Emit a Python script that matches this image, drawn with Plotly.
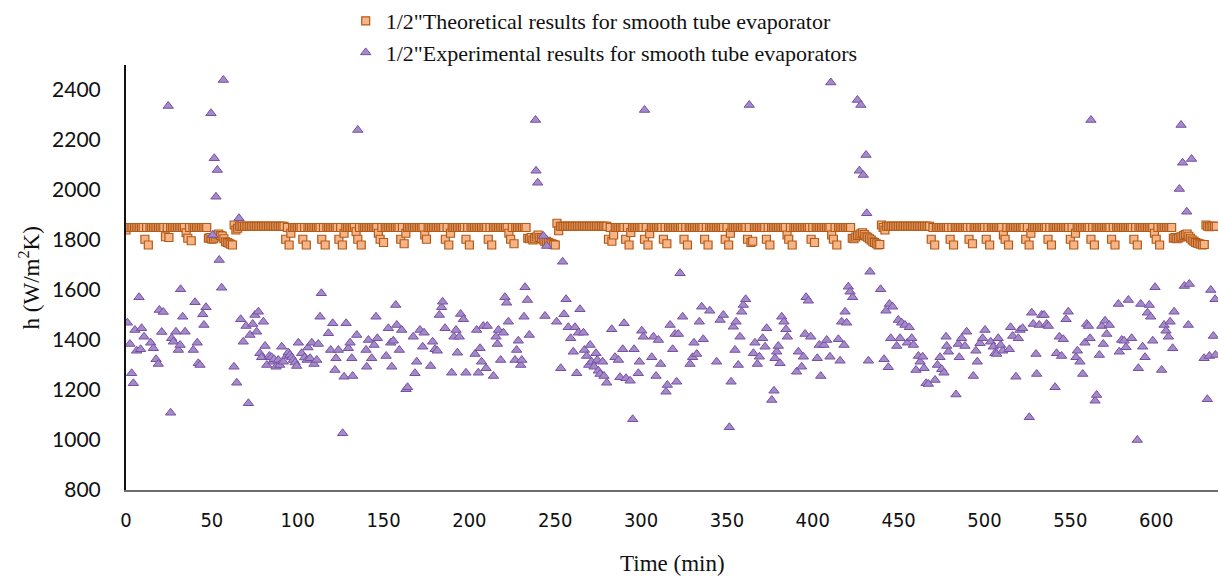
import plotly.graph_objects as go

# ---------------- data ----------------
theo_h = [
    1840,1850,1850,1850,1850,1850,1850,1850,1850,1850,
    1850,1803,1850,1780,1850,1850,1850,1850,1850,1850,
    1850,1850,1850,1813,1850,1810,1850,1850,1850,1850,
    1850,1850,1850,1850,1850,1829,1807,1850,1797,1850,
    1850,1850,1850,1850,1850,1850,1850,1850,1807,1810,
    1803,1805,1812,1820,1824,1818,1816,1805,1793,1790,
    1787,1783,1780,1860,1840,1847,1855,1855,1855,1855,
    1855,1855,1855,1855,1855,1855,1855,1855,1855,1855,
    1855,1855,1855,1855,1855,1855,1855,1855,1855,1855,
    1855,1855,1855,1803,1850,1780,1827,1850,1850,1850,
    1850,1850,1850,1803,1850,1780,1850,1850,1850,1850,
    1850,1850,1850,1850,1803,1850,1780,1850,1850,1850,
    1850,1850,1850,1850,1803,1850,1780,1827,1850,1850,
    1850,1850,1850,1850,1833,1803,1850,1780,1850,1850,
    1850,1850,1850,1850,1850,1850,1850,1827,1803,1850,
    1790,1850,1850,1850,1850,1850,1850,1850,1850,1850,
    1803,1850,1785,1827,1850,1850,1850,1850,1850,1850,
    1850,1850,1850,1850,1820,1803,1850,1850,1850,1850,
    1850,1850,1850,1850,1850,1850,1803,1850,1780,1827,
    1850,1850,1850,1850,1850,1850,1850,1850,1803,1850,
    1780,1850,1850,1850,1850,1850,1850,1850,1850,1850,
    1850,1803,1850,1780,1850,1850,1850,1850,1850,1850,
    1850,1850,1850,1827,1803,1850,1785,1850,1850,1850,
    1850,1850,1850,1850,1807,1805,1810,1800,1805,1812,
    1820,1810,1805,1800,1793,1795,1790,1787,1785,1782,
    1780,1867,1837,1855,1855,1855,1855,1855,1855,1855,
    1855,1855,1855,1855,1855,1855,1855,1855,1855,1855,
    1855,1855,1855,1855,1855,1855,1855,1855,1855,1855,
    1855,1803,1850,1795,1820,1850,1850,1850,1850,1850,
    1850,1803,1850,1780,1830,1850,1850,1850,1850,1850,
    1850,1850,1803,1850,1780,1825,1850,1850,1850,1850,
    1850,1850,1850,1803,1850,1785,1850,1850,1850,1850,
    1850,1850,1850,1850,1850,1803,1850,1780,1850,1850,
    1850,1850,1850,1850,1850,1850,1850,1803,1850,1780,
    1850,1850,1850,1850,1850,1850,1850,1850,1850,1803,
    1850,1780,1827,1850,1850,1850,1850,1850,1850,1850,
    1850,1850,1803,1850,1790,1795,1850,1850,1850,1850,
    1850,1850,1850,1803,1850,1780,1850,1850,1850,1850,
    1850,1850,1850,1850,1850,1820,1803,1850,1780,1850,
    1850,1850,1850,1850,1850,1850,1850,1850,1850,1803,
    1850,1790,1850,1850,1850,1850,1850,1850,1850,1850,
    1850,1820,1803,1850,1780,1850,1850,1850,1850,1850,
    1850,1850,1850,1807,1805,1812,1818,1820,1825,1829,
    1822,1815,1811,1805,1800,1793,1790,1785,1780,1782,
    1860,1850,1840,1855,1855,1855,1855,1855,1855,1855,
    1855,1855,1855,1855,1855,1855,1855,1855,1855,1855,
    1855,1855,1855,1855,1855,1855,1855,1855,1855,1803,
    1850,1780,1850,1850,1850,1850,1850,1850,1850,1850,
    1803,1850,1780,1850,1850,1850,1850,1850,1850,1850,
    1850,1803,1850,1785,1850,1850,1850,1850,1850,1850,
    1850,1803,1850,1780,1850,1850,1850,1850,1850,1850,
    1850,1820,1803,1850,1780,1850,1850,1850,1850,1850,
    1850,1850,1850,1850,1803,1850,1780,1827,1850,1850,
    1850,1850,1850,1850,1850,1850,1850,1803,1850,1780,
    1850,1850,1850,1850,1850,1850,1850,1850,1850,1850,
    1803,1850,1780,1827,1850,1850,1850,1850,1850,1850,
    1850,1850,1803,1850,1780,1850,1850,1850,1850,1850,
    1850,1850,1850,1850,1803,1850,1780,1850,1850,1850,
    1850,1850,1850,1850,1850,1850,1850,1803,1850,1780,
    1850,1850,1850,1850,1850,1850,1850,1850,1850,1827,
    1803,1850,1780,1850,1850,1850,1850,1850,1850,1850,
    1807,1810,1805,1808,1812,1813,1818,1822,1824,1815,
    1807,1800,1795,1790,1787,1785,1783,1780,1782,1860,
    1855,1853,1855,1855,1855,1855,
]
theo_time = list(range(len(theo_h)))

exp_time = [
    0.8, 2.3, 3.3, 4.3, 5.2, 6.2, 7.6, 8.5, 9.1, 10.5, 14.4, 15.9, 17.5, 18.8, 19.4, 20.8, 21.7,
    24.6, 26.0, 26.6, 27.6, 29.1, 30.5, 31.5, 31.8, 33.0, 34.4, 39.2, 40.2, 41.5, 42.1, 43.1,
    44.7, 45.4, 46.6,
    49.5, 50.5, 51.4, 52.4, 53.2, 54.3, 55.7, 56.7,
    62.9, 64.5, 65.8, 66.8, 68.3, 69.9, 71.3, 72.2, 73.8, 75.1, 76.1, 77.1, 78.0, 79.0, 80.0,
    81.0, 82.0, 83.5, 84.8, 85.5, 86.2, 87.4, 88.7, 89.5, 90.7, 91.6, 93.6, 94.5, 95.5, 96.5,
    97.5, 98.5, 99.4, 100.4, 102.3, 104.0, 105.5, 106.0, 107.2, 108.2, 109.5, 111.1, 112.0,
    113.0, 113.8, 117.9, 119.2, 120.4, 121.7, 122.3, 123.7, 126.2, 127.0, 128.2, 129.5, 130.5,
    131.5, 132.0, 134.4, 135.0, 139.8, 140.2, 141.2, 143.1, 144.5, 145.6, 146.4, 151.5, 152.8,
    154.2, 154.8, 155.7, 157.1, 157.7, 159.2, 160.6, 163.1, 164.0,
    167.3, 168.3, 169.3, 171.2, 172.8, 173.6, 177.4, 178.6, 180.0, 181.3, 182.5, 183.8, 184.4,
    185.8, 189.7, 191.0, 192.2, 193.0, 194.1, 194.9, 196.5, 198.0, 203.3, 204.2, 205.2, 206.2,
    207.1, 208.1, 209.7, 210.4, 214.0, 215.5, 216.3, 216.9, 218.2, 219.8, 220.7, 221.7, 222.7,
    226.6, 227.5, 228.5, 229.9, 230.5, 231.8, 232.4, 233.8, 234.9,
    238.5, 238.8, 239.8, 243.1, 244.0, 245.0,
    250.8, 253.2, 254.3, 255.1, 256.3, 257.6, 259.0, 260.5, 261.5, 262.5, 263.5, 264.4, 266.4,
    267.0, 268.3, 269.5, 270.3, 271.2, 272.6, 273.7, 274.5, 275.1, 276.1, 277.6, 278.4, 280.0,
    282.9, 284.8, 286.8, 287.7, 289.3, 290.1, 291.2, 293.6, 295.1, 295.9, 298.4, 299.0, 300.4,
    301.3, 302.0, 306.2, 307.2, 308.7, 310.1, 311.4, 314.5, 315.3, 316.9, 318.4, 319.8, 320.7,
    321.7, 322.7, 324.2, 328.5, 330.0, 330.8, 332.4, 333.9,
    335.3, 336.2, 340.0, 344.0, 346.0, 347.9, 351.4, 352.4, 353.7, 354.7, 355.3, 356.6, 357.6,
    358.6, 359.5, 360.9, 363.0, 365.4, 366.3, 367.7, 368.9, 370.8, 372.2, 373.1, 376.1, 377.4,
    378.0, 379.0, 379.9, 380.9, 381.9, 383.2, 384.4, 385.2, 390.6, 391.6, 393.5, 394.5, 395.5,
    396.1, 397.4, 398.8, 402.6, 403.8, 404.6, 406.5, 408.1, 410.0, 410.5, 414.9, 415.9, 416.8,
    418.2, 418.8, 419.7, 420.7, 421.7, 423.2,
    426.0, 427.1, 428.0, 429.4, 431.0, 431.4,
    432.4, 433.3, 439.5, 441.5, 442.6, 444.0, 444.6, 445.4, 446.5, 448.9, 449.8, 450.8, 451.8,
    453.7, 455.1, 456.2, 457.6, 458.6, 460.1, 461.5, 462.5, 464.0, 464.8, 466.0, 467.3, 471.2,
    472.6, 474.1, 475.1, 476.4, 477.6, 478.0, 479.0,
    483.4, 484.8, 485.3, 486.7, 488.6, 489.6, 493.5, 495.0, 495.8, 497.4, 498.9, 500.3, 503.6,
    505.1, 506.1, 507.1, 508.0, 509.4, 510.6, 514.5, 515.2, 516.4, 518.3, 519.7, 520.7, 522.2,
    526.1, 527.5, 528.4, 530.0, 530.4, 531.9, 533.3, 534.7, 536.2, 537.2, 541.1, 542.0, 543.6,
    544.9, 545.9, 547.5, 548.8, 553.3, 554.1, 555.6, 557.2, 558.5, 559.5, 560.5, 561.5, 562.0,
    564.4, 565.3, 566.9, 568.3, 569.2, 570.2, 571.2, 572.7, 578.0, 578.5, 579.9, 581.3, 582.4,
    583.8, 585.7, 589.0, 589.6, 591.0, 592.1, 593.5, 594.9, 596.0, 596.8, 598.0, 599.3, 603.2,
    604.6, 605.7, 607.1, 608.1, 609.6, 610.4,
    614.5, 613.5, 615.4, 617.8, 620.6,
    616.4, 618.7, 619.3, 627.9, 629.8, 631.0, 631.8, 633.3, 634.3, 634.5,
]
exp_h = [
    1469, 1384, 1267, 1227, 1440, 1357, 1571, 1363, 1447, 1413, 1389, 1367, 1323, 1304, 1520, 1432, 1512,
    2336, 1109, 1407, 1393, 1433, 1360, 1380, 1603, 1493, 1433, 1360, 1551, 1389, 1307, 1300,
    1503, 1460, 1531,
    2307, 1820, 2127, 1973, 2080, 1720, 1609, 2440,
    1293, 1229, 1887, 1483, 1393, 1456, 1147, 1420, 1464, 1500, 1433, 1513, 1347, 1331, 1473,
    1376, 1300, 1336, 1331, 1313, 1323, 1293, 1320, 1300, 1373, 1313, 1336, 1350, 1340, 1330,
    1320, 1310, 1296, 1389, 1347, 1330, 1320, 1370, 1327, 1389, 1304, 1320, 1384,
    1493, 1587, 1427, 1360, 1467, 1280, 1327, 1360, 1027, 1253, 1467, 1367, 1389,
    1327, 1256, 1420, 2240, 1360, 1293, 1400, 1327, 1380, 1493, 1407, 1336, 1447,
    1389, 1293, 1397, 1540, 1460, 1360, 1440, 1203, 1211,
    1413, 1267, 1313, 1440, 1373, 1429, 1296, 1393, 1363, 1357, 1500, 1531, 1553,
    1447, 1269, 1413, 1440, 1349, 1413, 1504, 1483, 1269, 1344, 1440, 1269, 1367,
    1313, 1456, 1287, 1456, 1256, 1413, 1384, 1440, 1320, 1429, 1571, 1549, 1473,
    1320, 1360, 1397, 1300, 1320, 1493, 1611, 1560, 1420,
    2280, 2077, 2029, 1816, 1496, 1776,
    1473, 1287, 1713, 1503, 1563, 1451, 1407, 1353, 1451, 1267, 1429, 1523, 1429,
    1360, 1336, 1300, 1380, 1313, 1293, 1347, 1320, 1277, 1264, 1313, 1256, 1229,
    1443, 1331, 1320, 1251, 1363, 1467, 1247, 1237, 1083, 1363, 1267, 1313, 1437,
    1413, 2320, 1331, 1413, 1256, 1400, 1304, 1193, 1220, 1460, 1363, 1424, 1233,
    1424, 1667, 1493, 1304, 1331, 1389, 1344, 1473,
    1533, 1403, 1517, 1313, 1480, 1500, 1051, 1233, 1453, 1360, 1473, 1300, 1413,
    1513, 1540, 1563, 2340, 1347, 1389, 1304, 1333, 1407, 1373, 1447, 1160, 1197,
    1327, 1353, 1376, 1307, 1493, 1473, 1443, 1413, 1273, 1353, 1293, 1333, 1424,
    1571, 1557, 1413, 1327, 1380, 1256, 1380, 1400, 1333, 2430, 1403, 1317, 1473,
    1380, 1513, 1469, 1613, 1593, 1571,
    2360, 2077, 2340, 2060, 2140, 1907,
    1317, 1673, 1603, 1323, 1517, 1291, 1544, 1407, 1533, 1376, 1480, 1407, 1469,
    1460, 1389, 1451, 1407, 1380, 1280, 1336, 1313, 1333, 1287, 1227, 1224, 1240,
    1300, 1331, 1283, 1269, 1413, 1376, 1353,
    1182, 1384, 1331, 1407, 1376, 1433, 1256, 1357, 1313, 1387, 1407, 1440, 1393,
    1373, 1347, 1344, 1407, 1380, 1357, 1363, 1451, 1416, 1253, 1407, 1440, 1447,
    1091, 1509, 1464, 1344, 1264, 1460, 1500, 1500, 1464, 1456, 1211, 1347, 1413,
    1336, 1403, 1483, 1513, 1331, 1357, 1313, 1264, 1389, 1464, 1456, 1407, 2280,
    1157, 1180, 1340, 1456, 1384, 1477, 1424, 1460, 1544, 1353, 1400, 1397, 1371,
    1560, 1407, 1000, 1287, 1544, 1373, 1331, 1509, 1540, 1493, 1397, 1611, 1280,
    1460, 1437, 1413, 1473, 1367, 1513,
    2260, 2004, 2109, 1913, 2124,
    1616, 1460, 1624, 1327, 1163, 1336, 1600, 1416, 1563, 1340,
]

series_names = ['1/2"Theoretical results for smooth tube evaporator',
                '1/2"Experimental results for smooth tube evaporators']
x_ticks = [0, 50, 100, 150, 200, 250, 300, 350, 400, 450, 500, 550, 600]
y_ticks = [800, 1000, 1200, 1400, 1600, 1800, 2000, 2200, 2400]

# ---------------- figure ----------------
fig = go.Figure()
fig.add_trace(go.Scatter(
    x=theo_time, y=theo_h, mode="markers", name=series_names[0],
    marker=dict(symbol="square", size=8, color="#F7B587",
                line=dict(color="#B25A18", width=1.2)),
))
fig.add_trace(go.Scatter(
    x=exp_time, y=exp_h, mode="markers", name=series_names[1],
    marker=dict(symbol="triangle-up", size=9, color="#A48BC8",
                line=dict(color="#7650A6", width=1)),
))

fig.update_layout(
    width=1219, height=579,
    paper_bgcolor="white", plot_bgcolor="white",
    margin=dict(l=126, r=1, t=65, b=89, autoexpand=False),
    showlegend=True,
    legend=dict(
        xref="container", yref="container", x=0.2836, y=1.0,
        xanchor="left", yanchor="top",
        font=dict(family="Liberation Serif, Times New Roman, serif", size=22, color="#111"),
        bgcolor="rgba(0,0,0,0)", itemwidth=30, tracegroupgap=0,
    ),
    xaxis=dict(
        range=[0, 636], tickvals=x_ticks, ticktext=[str(v) for v in x_ticks],
        showgrid=False, zeroline=False, showline=True, linecolor="#6e6e6e", linewidth=1.5,
        ticks="", tickangle=0,
        tickfont=dict(family="Liberation Sans Narrow, DejaVu Sans Condensed, Roboto Condensed, Arial Narrow, Liberation Sans, sans-serif",
                      size=20, color="#111"),
        ticklabelstandoff=11,
    ),
    yaxis=dict(
        range=[800, 2500], tickvals=y_ticks, ticktext=[str(v) for v in y_ticks],
        showgrid=False, zeroline=False, showline=True, linecolor="#111", linewidth=2,
        ticks="", tickfont=dict(family="Lato, Liberation Sans, sans-serif", size=21, color="#111"),
        ticklabelstandoff=19,
    ),
    annotations=[
        dict(text="h (W/m<sup>2</sup>K)", xref="paper", yref="paper", x=-0.088, y=0.5,
             xanchor="center", yanchor="middle", textangle=-90, showarrow=False,
             font=dict(family="Liberation Serif, Times New Roman, serif", size=23, color="#111")),
        dict(text="Time (min)", xref="paper", yref="paper", x=0.5, y=-0.172,
             xanchor="center", yanchor="middle", showarrow=False,
             font=dict(family="Liberation Serif, Times New Roman, serif", size=23, color="#111")),
    ],
)

fig.write_html("out.html", config={"displayModeBar": False},
               post_script="document.body.style.margin='0';")
